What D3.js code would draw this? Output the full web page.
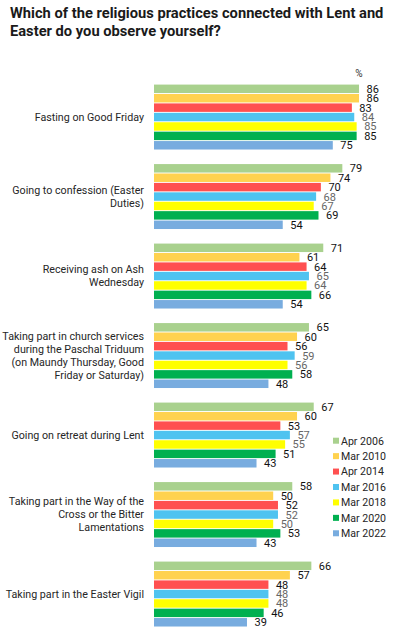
<!DOCTYPE html>
<html lang="en">
<head>
  <meta charset="UTF-8">
  <title>Lent and Easter practices</title>
  <style>
    body { margin: 0; background: #fff; }
    svg { font-family: Roboto, 'Noto Sans', sans-serif; display: block; }
    .title { font-weight: bold; font-size: 14.7px; fill: #1a1a1a; }
    .cat { font-size: 10.7px; fill: #262626; text-anchor: end; }
    .val { font-size: 11px; }
    .legend text { font-size: 10.6px; fill: #262626; }
  </style>
</head>
<body>
  <svg width="397" height="643"></svg>

  <script src="https://d3js.org/d3.v7.min.js"></script>
  <script>
    var categories = [
      "Fasting on Good Friday",
      "Going to confession (Easter Duties)",
      "Receiving ash on Ash Wednesday",
      "Taking part in church services during the Paschal Triduum (on Maundy Thursday, Good Friday or Saturday)",
      "Going on retreat during Lent",
      "Taking part in the Way of the Cross or the Bitter Lamentations",
      "Taking part in the Easter Vigil"
    ];
    // how the labels wrap in the original
    var categoryLines = [
      ["Fasting on Good Friday"],
      ["Going to confession (Easter", "Duties)"],
      ["Receiving ash on Ash", "Wednesday"],
      ["Taking part in church services", "during the Paschal Triduum", "(on Maundy Thursday, Good", "Friday or Saturday)"],
      ["Going on retreat during Lent"],
      ["Taking part in the Way of the", "Cross or the Bitter", "Lamentations"],
      ["Taking part in the Easter Vigil"]
    ];
    var seriesNames = ["Apr 2006", "Mar 2010", "Apr 2014", "Mar 2016", "Mar 2018", "Mar 2020", "Mar 2022"];
    var apr2006 = [86, 79, 71, 65, 67, 58, 66];
    var mar2010 = [86, 74, 61, 60, 60, 50, 57];
    var apr2014 = [83, 70, 64, 56, 53, 52, 48];
    var mar2016 = [84, 68, 65, 59, 57, 52, 48];
    var mar2018 = [85, 67, 64, 56, 55, 50, 48];
    var mar2020 = [85, 69, 66, 58, 51, 53, 46];
    var mar2022 = [75, 54, 54, 48, 43, 43, 39];
    var seriesValues = [apr2006, mar2010, apr2014, mar2016, mar2018, mar2020, mar2022];
    var colors = ["#a9d18e", "#ffd24f", "#ff5050", "#4fc3f0", "#ffff00", "#00b050", "#78acdf"];
    var labelColors = ["#111", "#111", "#111", "#666", "#666", "#111", "#111"];

    var svg = d3.select("svg");

    // title
    var title = svg.append("text").attr("class", "title").attr("x", 10);
    title.append("tspan").attr("x", 10).attr("y", 18).text("Which of the religious practices connected with Lent and");
    title.append("tspan").attr("x", 10).attr("y", 35.7).text("Easter do you observe yourself?");

    var x = d3.scaleLinear().domain([0, 100]).range([154, 392.4]);
    var y = d3.scaleBand().domain(categories).range([84.3, 626.8]).paddingInner(0.176).paddingOuter(0);
    var y1 = d3.scaleBand().domain(seriesNames).range([0, y.bandwidth()]).paddingInner(0.1).paddingOuter(0.03);

    svg.append("text")
      .attr("x", x(86))
      .attr("y", 77)
      .attr("text-anchor", "middle")
      .style("font-size", "10px")
      .style("fill", "#333")
      .text("%");

    var rows = [];
    categories.forEach(function(c, i) {
      seriesNames.forEach(function(s, j) {
        rows.push({ cat: c, series: s, j: j, value: seriesValues[j][i] });
      });
    });

    var groups = svg.append("g");

    groups.selectAll("rect")
      .data(rows)
      .enter()
        .append("rect")
        .attr("x", x(0))
        .attr("y", function(d) { return y(d.cat) + y1(d.series); })
        .attr("width", function(d) { return x(d.value) - x(0); })
        .attr("height", y1.bandwidth())
        .style("fill", function(d) { return colors[d.j]; });

    groups.selectAll("text.val")
      .data(rows)
      .enter()
        .append("text")
        .attr("class", "val")
        .attr("x", function(d) { return x(d.value) + 7.5; })
        .attr("y", function(d) { return y(d.cat) + y1(d.series) + y1.bandwidth() / 2; })
        .attr("dy", "0.36em")
        .style("fill", function(d) { return labelColors[d.j]; })
        .text(function(d) { return d.value; });

    // category labels
    var lineH = 13;
    svg.selectAll("text.cat")
      .data(categories)
      .enter()
        .append("text")
        .attr("class", "cat")
        .each(function(d, i) {
          var lines = categoryLines[i];
          var cy = y(d) + y.bandwidth() / 2;
          var top = cy - (lines.length - 1) * lineH / 2;
          d3.select(this).selectAll("tspan")
            .data(lines)
            .enter()
              .append("tspan")
              .attr("x", 144)
              .attr("y", function(l, k) { return top + k * lineH; })
              .attr("dy", "0.36em")
              .text(function(l) { return l; });
        });

    // legend
    var legend = svg.append("g").attr("class", "legend");
    var item = legend.selectAll("g")
      .data(seriesNames)
      .enter()
        .append("g")
        .attr("transform", function(d, i) { return "translate(333," + (440.7 + i * 15.43) + ")"; });
    item.append("rect")
      .attr("x", 0).attr("y", -3)
      .attr("width", 6).attr("height", 6)
      .style("fill", function(d, i) { return colors[i]; });
    item.append("text")
      .attr("x", 8)
      .attr("dy", "0.36em")
      .text(function(d) { return d; });
  </script>
</body>
</html>
